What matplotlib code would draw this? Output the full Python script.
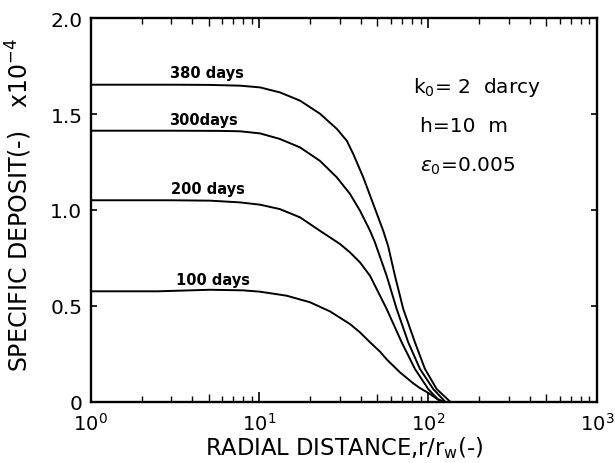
import matplotlib
matplotlib.use("Agg")
import matplotlib.pyplot as plt
from matplotlib.ticker import LogLocator, NullFormatter, FixedLocator

# ---- data ----
r_380 = [1, 3, 5, 7.66, 10.07, 13.2, 17.38, 22.8, 28.7, 32.9, 35.97, 41.2, 47.2, 54.1, 57.9,
         63.5, 71.1, 83.4, 95.6, 112.2, 134.5]
d_380 = [1.653, 1.653, 1.652, 1.648, 1.639, 1.613, 1.570, 1.502, 1.423, 1.361, 1.291, 1.170, 1.031, 0.891, 0.81,
         0.656, 0.483, 0.309, 0.170, 0.065, 0.0]

r_300 = [1, 3, 5.8, 7.66, 10.07, 13.2, 17.38, 22.8, 28.7, 34.4, 39.4, 45.2, 48.3, 56.7, 65.0,
         76.1, 89.3, 107.1, 125.6]
d_300 = [1.413, 1.413, 1.412, 1.410, 1.399, 1.370, 1.326, 1.256, 1.170, 1.083, 0.996, 0.891, 0.831, 0.656, 0.483,
         0.309, 0.170, 0.065, 0.0]

r_200 = [1, 3, 5.1, 7.66, 10.07, 13.2, 17.38, 22.8, 30.0, 34.4, 39.4, 45.2, 56.7, 69.6, 83.4, 100, 117.3]
d_200 = [1.05, 1.05, 1.048, 1.039, 1.027, 1.004, 0.961, 0.891, 0.822, 0.778, 0.726, 0.656, 0.483, 0.309, 0.170,
         0.065, 0.0]

r_100 = [1, 2.5, 5.1, 8, 10.07, 14.5, 19.9, 26.2, 34.4, 39.4, 45.2, 51.8, 56.7, 68, 81.5, 89.3, 100, 112.2, 122.7]
d_100 = [0.575, 0.575, 0.583, 0.58, 0.573, 0.552, 0.518, 0.470, 0.404, 0.361, 0.309, 0.26, 0.22, 0.152, 0.095,
         0.07, 0.045, 0.015, 0.0]

curve_labels = ["380 days", "300days", "200 days", "100 days"]
label_r = [4.89, 4.63, 4.96, 5.27]
label_d = [1.719, 1.469, 1.109, 0.639]

ytick_vals = [0, 0.5, 1.0, 1.5, 2.0]
ytick_labels = ["0", "0.5", "1.0", "1.5", "2.0"]

params_text = ["k$_0$= 2  darcy", "h=10  m", r"$\varepsilon_0$=0.005"]

# ---- figure ----
W, H = 615, 464
fig = plt.figure(figsize=(W / 100, H / 100), dpi=100)
L, R, T, B = 90.7, 597, 19.2, 402.5
ax = fig.add_axes([L / W, 1 - B / H, (R - L) / W, (B - T) / H])

for r, d in [(r_380, d_380), (r_300, d_300), (r_200, d_200), (r_100, d_100)]:
    ax.plot(r, d, color="black", lw=1.4, solid_capstyle="round", solid_joinstyle="round")

for t, xr, yd in zip(curve_labels, label_r, label_d):
    ax.text(xr, yd, t, ha="center", va="center", fontsize=10.5, fontweight="bold")

ax.set_xscale("log")
ax.set_xlim(1, 1000)
ax.set_ylim(0, 2.0)
ax.xaxis.set_major_locator(LogLocator(base=10, numticks=10))
ax.xaxis.set_minor_locator(LogLocator(base=10, subs=range(2, 10), numticks=20))
ax.xaxis.set_minor_formatter(NullFormatter())
ax.yaxis.set_major_locator(FixedLocator(ytick_vals))
ax.set_yticklabels(ytick_labels)

ax.tick_params(axis="both", which="both", direction="in", top=True, right=True, color="black")
ax.tick_params(axis="x", which="major", length=7.5, width=1.2, pad=7.5, labelsize=14)
ax.tick_params(axis="x", which="minor", length=4, width=1.0)
ax.tick_params(axis="y", which="major", length=4.5, width=1.2, pad=6, labelsize=14.5)

for s in ax.spines.values():
    s.set_linewidth(1.7)

ax.set_xlabel("RADIAL DISTANCE,r/r$_\\mathregular{w}$(-)", fontsize=16.3, labelpad=0)
ax.set_ylabel("SPECIFIC DEPOSIT(-)   x10$^{-4}$", fontsize=17)
ax.yaxis.set_label_coords((34 - L) / (R - L), (B - 205.5) / (B - T))

# parameters text
ax.text(0.637, 0.822, params_text[0], transform=ax.transAxes, fontsize=14.5, va="center", ha="left")
ax.text(0.650, 0.720, params_text[1], transform=ax.transAxes, fontsize=14.5, va="center", ha="left")
ax.text(0.650, 0.617, params_text[2], transform=ax.transAxes, fontsize=14.5, va="center", ha="left")

# mid-decade minor ticks are drawn a little longer
fig.canvas.draw()
for tk in ax.xaxis.get_minor_ticks():
    loc = tk.get_loc()
    if loc is not None and any(abs(loc - v) < 1e-6 * v for v in (5, 50, 500)):
        tk.tick1line.set_markersize(5.5)
        tk.tick2line.set_markersize(5.5)

fig.savefig("out.png", dpi=100)
